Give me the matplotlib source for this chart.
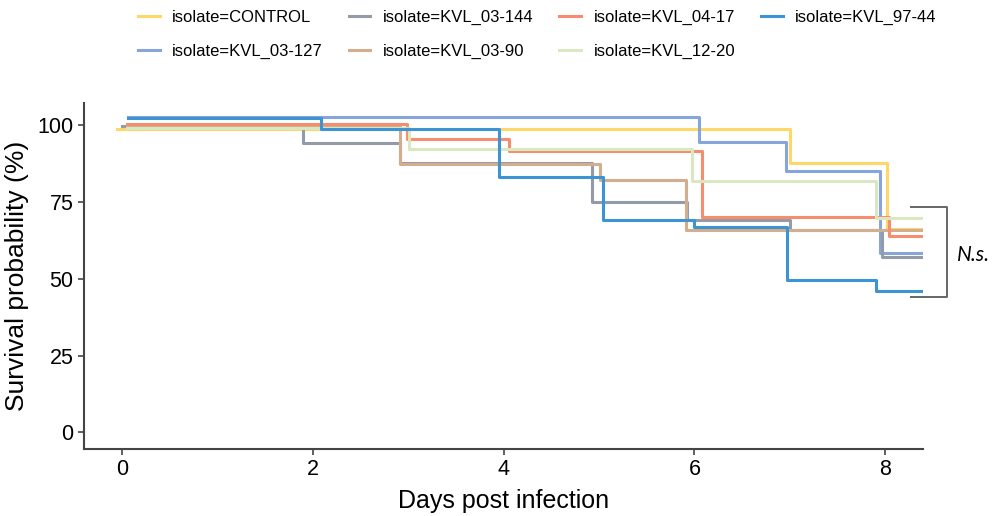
import matplotlib.pyplot as plt

plt.rcParams['font.family'] = ['Liberation Sans', 'DejaVu Sans']

# Kaplan-Meier steps per isolate: day of each step and survival (%) after it
isolates = ["CONTROL", "KVL_03-127", "KVL_03-144", "KVL_03-90",
            "KVL_04-17", "KVL_12-20", "KVL_97-44"]

control_days = [-0.05, 7.00, 8.02, 8.41]
control_surv = [98.7, 87.5, 66.3, 66.3]

kvl_03_127_days = [0.06, 6.05, 6.96, 7.95, 8.41]
kvl_03_127_surv = [102.6, 94.4, 84.9, 58.3, 58.3]

kvl_03_144_days = [0.00, 1.90, 2.91, 4.93, 5.92, 7.00, 7.97, 8.41]
kvl_03_144_surv = [99.8, 94.0, 87.6, 75.1, 69.0, 65.9, 57.2, 57.2]

kvl_03_90_days = [0.05, 2.91, 5.01, 5.91, 8.41]
kvl_03_90_surv = [100.0, 87.2, 82.1, 65.7, 65.7]

kvl_04_17_days = [0.05, 2.99, 4.06, 6.08, 8.04, 8.41]
kvl_04_17_surv = [100.2, 95.3, 91.4, 70.2, 64.0, 64.0]

kvl_12_20_days = [0.05, 3.01, 5.97, 7.90, 8.41]
kvl_12_20_surv = [99.1, 92.3, 81.9, 69.7, 69.7]

kvl_97_44_days = [0.06, 2.09, 3.95, 5.04, 6.00, 6.97, 7.90, 8.41]
kvl_97_44_surv = [102.4, 98.7, 83.1, 69.0, 66.9, 49.6, 46.1, 46.1]

days = [control_days, kvl_03_127_days, kvl_03_144_days, kvl_03_90_days,
        kvl_04_17_days, kvl_12_20_days, kvl_97_44_days]
surv = [control_surv, kvl_03_127_surv, kvl_03_144_surv, kvl_03_90_surv,
        kvl_04_17_surv, kvl_12_20_surv, kvl_97_44_surv]
colors = ["#FDD868", "#86A6DB", "#939CA6", "#D2AE8E",
          "#F58D6E", "#D9E8C0", "#3C94D4"]

x_ticks = [0, 2, 4, 6, 8]
y_ticks = [0, 25, 50, 75, 100]

fig = plt.figure(figsize=(10, 5.16), dpi=100)
ax = fig.add_axes([0.084, 0.130, 0.8393, 0.671])

for name, d, s, c in zip(isolates, days, surv, colors):
    ax.step(d, s, where="post", color=c, lw=2.2, label=f"isolate={name}")

ax.set_xlim(-0.40, 8.40)
ax.set_ylim(-5.37, 107.25)
ax.set_xticks(x_ticks)
ax.set_yticks(y_ticks)
ax.tick_params(labelsize=15.5, length=4, width=1.2, color="#444444",
               labelcolor="black")
for side in ["top", "right"]:
    ax.spines[side].set_visible(False)
for side in ["left", "bottom"]:
    ax.spines[side].set_color("#444444")
    ax.spines[side].set_linewidth(1.5)

ax.set_xlabel("Days post infection", fontsize=18, labelpad=6)
ax.set_ylabel("Survival probability (%)", fontsize=19, labelpad=6)

# bracket with the significance note to the right of the curves
ax.plot([8.27, 8.65, 8.65, 8.27], [73.2, 73.2, 44.0, 44.0],
        color="#666666", lw=1.4, clip_on=False)
ax.text(8.75, 57.8, "N.s.", fontsize=15, fontstyle="italic",
        family=["Lato", "DejaVu Sans"], va="center", ha="left")

fig.legend(loc="upper left", bbox_to_anchor=(0.138, 0.980), ncol=4,
           frameon=False, fontsize=12, handlelength=1.3, handletextpad=0.75,
           columnspacing=1.55, labelspacing=1.1, borderpad=0,
           borderaxespad=0)

fig.savefig("out.png", dpi=100)
